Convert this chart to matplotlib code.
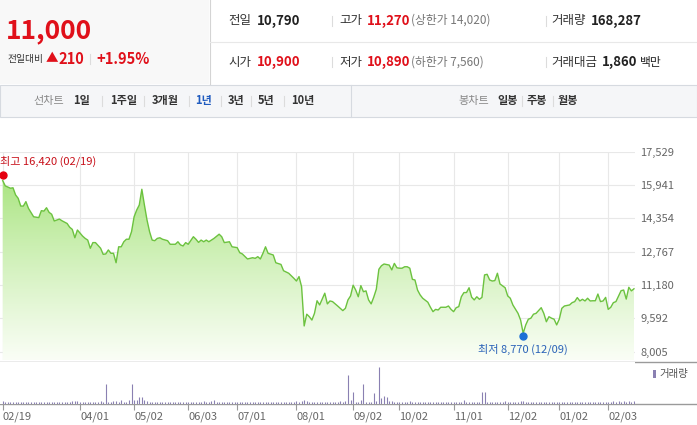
import numpy as np
import matplotlib
matplotlib.use("Agg")
import matplotlib.pyplot as plt
from matplotlib.patches import Rectangle

plt.rcParams['font.family'] = ['Noto Sans CJK KR', 'DejaVu Sans']

W, H = 697, 425

# closing prices (x = trading day index)
price_day = [0, 1, 3, 4, 5, 6, 7, 8, 9, 10, 12, 14, 15, 16, 17, 18, 19, 20, 22, 23,
             25, 26, 27, 28, 29, 31, 32, 33, 34, 35, 36, 38, 39, 40, 41, 42, 43, 44, 45, 46,
             47, 48, 49, 50, 51, 52, 53, 54, 55, 56, 57, 58, 59, 60, 61, 62, 64, 65, 67, 68,
             69, 70, 71, 72, 74, 75, 76, 77, 78, 79, 80, 82, 84, 85, 86, 88, 89, 91, 92, 93,
             95, 97, 98, 99, 100, 101, 102, 103, 105, 106, 108, 109, 111, 113, 114, 115, 116, 117, 118, 119,
             120, 121, 122, 123, 125, 126, 127, 128, 130, 132, 133, 134, 135, 136, 137, 138, 139, 140, 141, 142,
             143, 144, 145, 146, 147, 148, 150, 151, 152, 153, 154, 155, 156, 157, 158, 159, 160, 161, 162, 163,
             165, 166, 167, 168, 169, 170, 172, 173, 174, 175, 176, 177, 178, 179, 180, 181, 182, 183, 184, 185,
             186, 187, 188, 189, 190, 191, 192, 193, 195, 196, 197, 198, 200, 201, 202, 203, 204, 205, 206, 207,
             209, 210, 211, 212, 213, 214, 215, 216, 217, 218, 220, 221, 222, 223, 224, 225, 226, 227, 228, 229,
             230, 231, 232, 233, 234, 235, 236, 237, 238, 240, 241, 242, 243, 244, 245]
price_close = [16150, 15900, 15790, 15810, 15470, 15310, 14940, 14940, 15150, 14830, 14430, 14390, 14720, 14700, 14860, 14640, 14550, 14230, 14320, 14240,
               14110, 13930, 13830, 13430, 13800, 13510, 13400, 13320, 12930, 13200, 13200, 12930, 12640, 12660, 12850, 12690, 12690, 12240, 13000, 13000,
               13240, 13360, 13360, 13720, 14430, 14750, 14990, 15740, 14990, 14280, 13720, 13320, 13290, 13400, 13430, 13360, 13290, 13120, 13120, 13240,
               13090, 13040, 13200, 13120, 13480, 13360, 13210, 13320, 13240, 13320, 13240, 13400, 13600, 13480, 13200, 13240, 13000, 12960, 12720, 12660,
               12420, 12480, 12450, 12530, 12420, 12690, 13000, 12690, 12610, 12240, 12160, 11860, 11740, 11500, 11370, 11580, 11100, 9230, 9790, 9670,
               9510, 9830, 10430, 10230, 10790, 10280, 10420, 10390, 10180, 9960, 10070, 10470, 10660, 11170, 10940, 10620, 11150, 10860, 10900, 10470,
               10280, 10600, 10980, 11930, 12100, 12180, 12130, 11900, 12210, 12000, 11980, 11980, 12050, 12050, 11980, 11450, 11420, 10940, 10710, 10550,
               10360, 10120, 9910, 10020, 9990, 10120, 10120, 10180, 10020, 9910, 10100, 10150, 10620, 10820, 10820, 11050, 10600, 10470, 10620, 10500,
               10590, 11660, 11690, 11420, 11370, 11390, 11740, 11230, 11050, 10660, 10550, 10230, 9830, 9510, 8880, 9280, 9550, 9600, 9790, 9830,
               10100, 9830, 9430, 9670, 9600, 9550, 9280, 9550, 10070, 10180, 10230, 10340, 10390, 10580, 10420, 10500, 10420, 10550, 10420, 10430,
               10430, 10750, 10390, 10420, 10590, 10020, 10120, 10340, 10390, 10910, 10940, 10510, 11070, 10900, 11000]

# daily volume (thousand shares), one value per trading day
volume = [140, 110, 120, 90, 130, 100, 90, 110, 120, 95,
          100, 85, 110, 95, 120, 90, 100, 130, 105, 90,
          95, 110, 100, 85, 120, 100, 95, 170, 160, 190,
          100, 90, 110, 95, 130, 100, 85, 100, 150, 90,
          1250, 110, 120, 160, 170, 110, 200, 120, 130, 220,
          1250, 220, 220, 430, 430, 260, 150, 120, 130, 110,
          120, 100, 95, 110, 90, 100, 110, 95, 120, 90,
          100, 85, 95, 110, 100, 90, 120, 100, 170, 110,
          100, 140, 220, 130, 120, 110, 100, 95, 90, 100,
          85, 90, 100, 95, 110, 90, 100, 85, 95, 90,
          100, 110, 120, 95, 90, 100, 110, 130, 100, 95,
          100, 90, 110, 120, 150, 130, 170, 200, 160, 120,
          130, 110, 120, 100, 110, 100, 95, 110, 100, 120,
          110, 140, 120, 150, 1850, 220, 760, 110, 110, 220,
          1250, 110, 110, 110, 700, 180, 2350, 390, 480, 440,
          180, 180, 110, 120, 110, 100, 130, 120, 150, 100,
          110, 100, 120, 95, 110, 100, 90, 110, 100, 95,
          100, 110, 95, 100, 90, 110, 100, 120, 130, 260,
          120, 110, 100, 110, 95, 100, 760, 760, 130, 120,
          110, 100, 130, 120, 110, 140, 100, 120, 110, 130,
          120, 140, 150, 130, 120, 110, 100, 120, 110, 100,
          100, 110, 95, 100, 90, 100, 110, 100, 95, 100,
          110, 90, 100, 95, 110, 100, 90, 100, 95, 100,
          110, 100, 90, 100, 95, 110, 120, 170, 130, 140,
          110, 180, 120, 150, 110, 168]

y_ticks = [8005, 9592, 11180, 12767, 14354, 15941, 17529]
date_ticks = [0, 30, 51, 72, 91, 114, 136, 154, 175, 196, 216, 235]
date_labels = ["02/19", "04/01", "05/02", "06/03", "07/01", "08/01",
               "09/02", "10/02", "11/01", "12/02", "01/02", "02/03"]

high_day, high_value, high_date = 0, 16420, "02/19"
low_day, low_value, low_date = 202, 8770, "12/09"

RED = '#e0101a'
BLUE = '#1f5bbf'

fig = plt.figure(figsize=(W / 100, H / 100), dpi=100)

# background axes in pixel coordinates for the header / tab bar
bg = fig.add_axes([0, 0, 1, 1])
bg.set_xlim(0, W)
bg.set_ylim(H, 0)
bg.axis('off')


def px_axes(x0, y0, x1, y1):
    return fig.add_axes([x0 / W, 1 - y1 / H, (x1 - x0) / W, (y1 - y0) / H])


def sep(x, yc, h=10):
    bg.plot([x, x], [yc - h / 2, yc + h / 2], color='#dcdcdc', lw=0.8)


# header
bg.add_patch(Rectangle((0, 0), 209, 84, fc='#f8f8f8', ec='none'))
bg.plot([209.5, 209.5], [0, 84], color='#d4d4d4', lw=0.8)
bg.plot([210, W], [41.5, 41.5], color='#e8e8e8', lw=0.8)

bg.text(6, 31, "11,000", color=RED, fontsize=19, fontweight='bold', va='center')
bg.text(8, 59, "전일대비", color='#333333', fontsize=7, va='center')
bg.text(46, 59, "▲", color=RED, fontsize=9, va='center')
bg.text(58, 59, "210", color=RED, fontsize=10.5, fontweight='bold', va='center')
sep(90, 59)
bg.text(96, 59, "+1.95%", color=RED, fontsize=10.5, fontweight='bold', va='center')

r1, r2 = 20.5, 62
lab = dict(fontsize=9, color='#333333', va='center')
val = dict(fontsize=9.5, fontweight='bold', va='center')
bg.text(228, r1, "전일", **lab)
bg.text(257, r1, "10,790", color='#222222', **val)
sep(332, r1)
bg.text(339, r1, "고가", **lab)
bg.text(367, r1, "11,270", color=RED, **val)
bg.text(411, r1, "(상한가 14,020)", color='#777777', fontsize=8.5, va='center')
sep(546, r1)
bg.text(551, r1, "거래량", **lab)
bg.text(591, r1, "168,287", color='#222222', **val)

bg.text(228, r2, "시가", **lab)
bg.text(257, r2, "10,900", color=RED, **val)
sep(332, r2)
bg.text(339, r2, "저가", **lab)
bg.text(367, r2, "10,890", color=RED, **val)
bg.text(411, r2, "(하한가 7,560)", color='#777777', fontsize=8.5, va='center')
sep(546, r2)
bg.text(551, r2, "거래대금", **lab)
bg.text(602, r2, "1,860", color='#222222', **val)
bg.text(640, r2, "백만", fontsize=8.5, color='#222222', va='center')

# tab bar
bg.add_patch(Rectangle((0, 85), W, 32, fc='#f5f6f8', ec='#d6dae0', lw=0.8))
bg.plot([351, 351], [85, 117], color='#d6dae0', lw=0.8)
ty = 100.5
tab = dict(fontsize=8, fontweight='bold', color='#333333', va='center')
bg.text(33, ty, "선차트", fontsize=8, color='#888888', va='center')
bg.text(73, ty, "1일", **tab)
sep(102, ty)
bg.text(110, ty, "1주일", **tab)
sep(144, ty)
bg.text(152, ty, "3개월", **tab)
sep(189, ty)
bg.text(195, ty, "1년", fontsize=8, fontweight='bold', color=BLUE, va='center')
sep(221, ty)
bg.text(228, ty, "3년", **tab)
sep(251, ty)
bg.text(258, ty, "5년", **tab)
sep(284, ty)
bg.text(291, ty, "10년", **tab)
bg.text(458, ty, "봉차트", fontsize=8, color='#888888', va='center')
bg.text(497, ty, "일봉", **tab)
sep(522, ty)
bg.text(527, ty, "주봉", **tab)
sep(553, ty)
bg.text(558, ty, "월봉", **tab)

# price panel
x_lo, x_hi = -1.05, 245.4
step = (y_ticks[-1] - y_ticks[0]) / (len(y_ticks) - 1)
y_lo = y_ticks[0] - step * 0.25

ax = px_axes(0, 151.7, 635, 360)
ax.set_xlim(x_lo, x_hi)
ax.set_ylim(y_lo, y_ticks[-1])
for s in ax.spines.values():
    s.set_visible(False)
ax.set_xticks(date_ticks)
ax.set_yticks(y_ticks)
ax.set_yticklabels(["{:,}".format(v) for v in y_ticks])
ax.yaxis.tick_right()
ax.tick_params(axis='y', length=0, pad=4, labelsize=8, labelcolor='#666666')
ax.tick_params(axis='x', length=0, labelbottom=False)
ax.grid(True, color='#e8e8e8', lw=0.8)
ax.set_axisbelow(True)

poly = ax.fill_between(price_day, price_close, y_lo, facecolor='none', edgecolor='none')
top_c = np.array([150, 222, 100]) / 255
bot_c = np.array([250, 254, 246]) / 255
t = np.linspace(0, 1, 256) ** 0.8
grad = (top_c[None, :] * (1 - t[:, None]) + bot_c[None, :] * t[:, None]).reshape(256, 1, 3)
img = ax.imshow(grad, extent=[x_lo, x_hi, y_lo, y_ticks[-1]], aspect='auto',
                origin='upper', zorder=2)
img.set_clip_path(poly.get_paths()[0], transform=ax.transData)
ax.set_xlim(x_lo, x_hi)
ax.set_ylim(y_lo, y_ticks[-1])

ax.plot(price_day, price_close, color='#6cc23f', lw=1.0, zorder=3)

ax.plot([high_day], [high_value], 'o', color='#e5000f', ms=5, zorder=4, clip_on=False)
ax.annotate("최고 {:,} ({})".format(high_value, high_date), (high_day, high_value),
            xytext=(-2, 10), textcoords='offset points', ha='left', va='center',
            fontsize=8, color='#c8101a', annotation_clip=False)
ax.plot([low_day], [low_value], 'o', color='#1c6fd6', ms=5, zorder=4, clip_on=False)
ax.annotate("최저 {:,} ({})".format(low_value, low_date), (low_day, low_value),
            xytext=(0, -10), textcoords='offset points', ha='center', va='center',
            fontsize=8, color='#2a62b8', annotation_clip=False)

# volume panel
bg.plot([0, W], [361.5, 361.5], color='#9a9a9a', lw=1.0)
bg.plot([0, W], [403.5, 403.5], color='#9a9a9a', lw=1.0)

axv = px_axes(0, 362, 635, 403.5)
days = np.arange(len(volume))
axv.vlines(days, 0, volume, color='#8a80b2', lw=0.8)
axv.set_xlim(x_lo, x_hi)
axv.set_ylim(0, max(volume) * 1.15)
for s in axv.spines.values():
    s.set_visible(False)
axv.set_yticks([])
axv.set_xticks(date_ticks)
axv.set_xticklabels(date_labels)
axv.tick_params(axis='x', direction='out', length=4, width=0.8, color='#999999',
                labelsize=8, labelcolor='#666666', pad=1.5)
plt.setp(axv.get_xticklabels(), ha='left')

bg.add_patch(Rectangle((653, 370), 3, 8, fc='#8a80b2', ec='none'))
bg.text(659, 374, "거래량", fontsize=7.5, color='#555555', va='center')

fig.savefig("out.png", dpi=100)
